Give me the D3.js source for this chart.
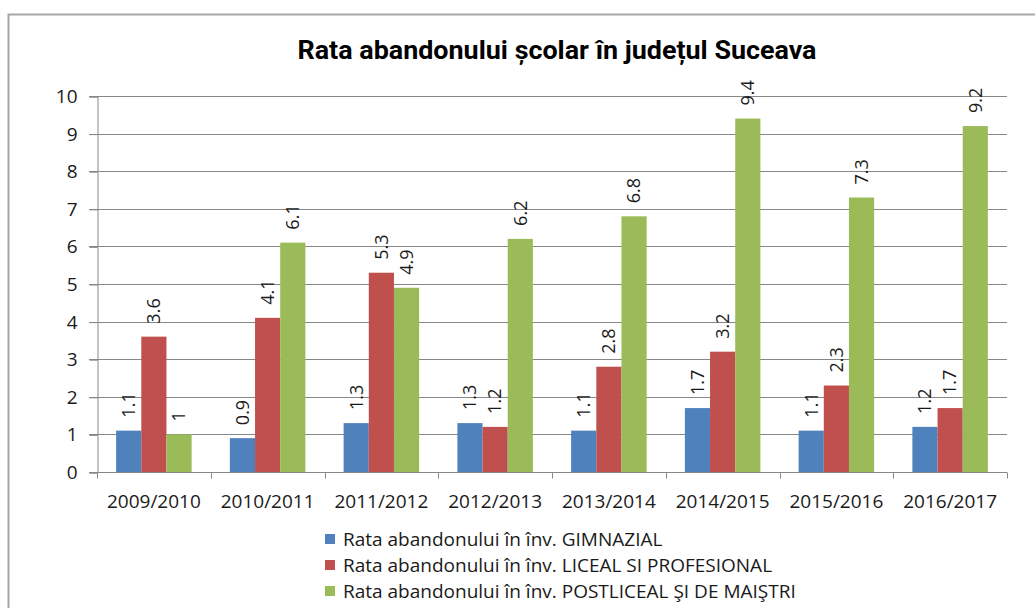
<!DOCTYPE html>
<html>
<head>
<meta charset="utf-8">
<script src="https://cdn.jsdelivr.net/npm/d3@7"></script>
<style>
  body { margin: 0; background: #fff; }
  svg { display: block; }
</style>
</head>
<body>
<svg id="chart" width="1035" height="608"></svg>
<script>
const TITLE = 'Rata abandonului școlar în județul Suceava';
const years = ['2009/2010', '2010/2011', '2011/2012', '2012/2013', '2013/2014', '2014/2015', '2015/2016', '2016/2017'];
const seriesNames = [
  'Rata abandonului în înv. GIMNAZIAL',
  'Rata abandonului în înv. LICEAL SI PROFESIONAL',
  'Rata abandonului în înv. POSTLICEAL ŞI DE MAIŞTRI',
];
const gimnazial = [1.1, 0.9, 1.3, 1.3, 1.1, 1.7, 1.1, 1.2];
const liceal = [3.6, 4.1, 5.3, 1.2, 2.8, 3.2, 2.3, 1.7];
const postliceal = [1, 6.1, 4.9, 6.2, 6.8, 9.4, 7.3, 9.2];
const yTicks = [0, 1, 2, 3, 4, 5, 6, 7, 8, 9, 10];
const colors = ['#4F81BD', '#C0504D', '#9BBB59'];

const values = [gimnazial, liceal, postliceal];
const font = '"Open Sans", sans-serif';

const svg = d3.select('#chart');

// outer frame (only top and left edges visible in the crop)
svg.append('path')
  .attr('d', 'M8.5,608 V14.5 H1035')
  .attr('fill', 'none')
  .attr('stroke', '#a6a6a6')
  .attr('stroke-width', 2);

svg.append('text')
  .attr('x', 557)
  .attr('y', 59)
  .attr('text-anchor', 'middle')
  .style('font-family', 'Roboto, sans-serif')
  .style('font-weight', 'bold')
  .style('font-size', '25px')
  .attr('textLength', 519)
  .attr('lengthAdjust', 'spacingAndGlyphs')
  .text(TITLE);

const x0 = d3.scaleBand().domain(years).range([97, 1007]);
const x1 = d3.scaleBand().domain(d3.range(3)).range([0, x0.bandwidth()]).paddingOuter(0.76);
const y = d3.scaleLinear().domain([0, 10]).range([472, 96]);

// gridlines
svg.append('g')
  .selectAll('line')
  .data(yTicks.filter((d) => d > 0))
  .join('line')
  .attr('x1', 89)
  .attr('x2', 1007)
  .attr('y1', (d) => Math.round(y(d)) + 0.5)
  .attr('y2', (d) => Math.round(y(d)) + 0.5)
  .attr('stroke', '#878787');

// y axis
const yAxis = svg.append('g')
  .attr('transform', 'translate(97.5,0.5)')
  .call(d3.axisLeft(y).tickValues(yTicks).tickSize(8).tickPadding(12).tickFormat(d3.format('d')));
yAxis.select('.domain').attr('stroke', '#878787');
yAxis.selectAll('.tick line').attr('stroke', '#878787');
yAxis.selectAll('.tick text')
  .style('font-family', font)
  .style('font-size', '19px')
  .attr('fill', '#1a1a1a');

// x axis: ticks between categories
const xAxisG = svg.append('g').attr('transform', 'translate(0,472.5)');
xAxisG.append('line')
  .attr('x1', 89).attr('x2', 1007)
  .attr('stroke', '#878787');
xAxisG.selectAll('line.cat')
  .data(years.concat(['end']))
  .join('line')
  .attr('class', 'cat')
  .attr('x1', (d, i) => Math.round(x0.range()[0] + i * x0.step()) + 0.5)
  .attr('x2', (d, i) => Math.round(x0.range()[0] + i * x0.step()) + 0.5)
  .attr('y1', 0).attr('y2', 6)
  .attr('stroke', '#878787');
xAxisG.selectAll('text')
  .data(years)
  .join('text')
  .attr('x', (d) => x0(d) + x0.bandwidth() / 2)
  .attr('y', 35)
  .attr('text-anchor', 'middle')
  .style('font-family', font)
  .style('font-size', '19px')
  .attr('fill', '#1a1a1a')
  .text((d) => d);

// bars
const groups = svg.append('g')
  .selectAll('g')
  .data(years)
  .join('g')
  .attr('transform', (d) => `translate(${x0(d)},0)`);

const cells = groups.selectAll('g')
  .data((d, i) => values.map((arr, s) => ({ s, v: arr[i] })))
  .join('g');

cells.append('rect')
  .attr('x', (d) => x1(d.s))
  .attr('y', (d) => y(d.v))
  .attr('width', x1.bandwidth())
  .attr('height', (d) => y(0) - y(d.v))
  .attr('fill', (d) => colors[d.s]);

cells.append('text')
  .attr('transform', (d) => `translate(${x1(d.s) + x1.bandwidth() / 2},${y(d.v) - 13}) rotate(-90)`)
  .attr('dy', '0.35em')
  .style('font-family', font)
  .style('font-size', '18px')
  .attr('fill', '#1a1a1a')
  .text((d) => d.v);

// legend
const legend = svg.append('g')
  .selectAll('g')
  .data(seriesNames)
  .join('g')
  .attr('transform', (d, i) => `translate(325,${534 + i * 26})`);
legend.append('rect')
  .attr('width', 10).attr('height', 10)
  .attr('fill', (d, i) => colors[i]);
legend.append('text')
  .attr('x', 18)
  .attr('y', 12)
  .style('font-family', font)
  .style('font-size', '19px')
  .attr('fill', '#1a1a1a')
  .text((d) => d);
</script>
</body>
</html>
